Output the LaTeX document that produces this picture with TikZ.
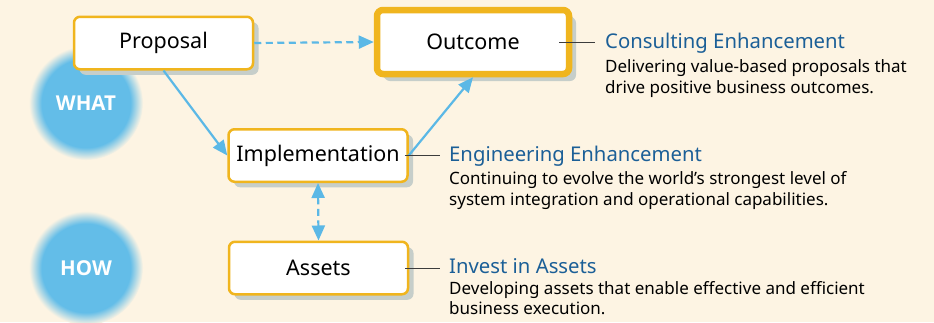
\documentclass[tikz,border=0pt]{standalone}
\usepackage{fontspec}
\setmainfont{Noto Sans}
\newfontfamily\circfont{Open Sans}
\usetikzlibrary{arrows.meta,shadows}
\definecolor{bg}{HTML}{FDF4E3}
\definecolor{boxborder}{HTML}{F0B51E}
\definecolor{shadowc}{HTML}{C6CECA}
\definecolor{arrowc}{HTML}{5BB8E6}
\definecolor{headc}{HTML}{1B5F97}
\definecolor{circc}{HTML}{63BDE8}
\definecolor{leadc}{HTML}{3C3C3C}
\pgfdeclareradialshading{softcirc}{\pgfpoint{0bp}{0bp}}{%
  color(0bp)=(circc); color(19.5bp)=(circc); color(25bp)=(bg); color(50bp)=(bg)}
\tikzset{
  stepbox/.style={draw=boxborder, line width=2.5pt, fill=white, rounded corners=6pt,
    minimum width=179pt, minimum height=52.5pt, inner sep=0pt,
    font=\fontsize{21.5}{25}\selectfont,
    drop shadow={shadow xshift=5.5pt, shadow yshift=-5.5pt, fill=shadowc, opacity=1}},
  bigbox/.style={stepbox, line width=6.5pt, minimum width=192pt, minimum height=64pt,
    drop shadow={shadow xshift=7pt, shadow yshift=-7pt, fill=shadowc, opacity=1}},
  flow/.style={draw=arrowc, line width=2.2pt, -{Triangle[length=15pt,width=13pt]}},
  dashflow/.style={flow, dash pattern=on 7pt off 4.5pt},
  leader/.style={draw=leadc, line width=1pt},
  headtxt/.style={anchor=base west, inner sep=0pt, text=headc, font=\fontsize{20.3}{24}\selectfont},
  bodytxt/.style={anchor=base west, inner sep=0pt, align=left, font=\fontsize{17}{20.5}\selectfont},
  circlab/.style={text=white, font=\circfont\bfseries\fontsize{20.5}{24}\selectfont}
}
\begin{document}
\begin{tikzpicture}[x=1pt,y=-1pt]
\fill[bg] (0,0) rectangle (934,322);
\useasboundingbox (0,0) rectangle (934,322);
% circles
\shade[shading=softcirc] (86,103) circle (57);
\shade[shading=softcirc] (86,268) circle (57);
\node[circlab] (what) at (86,103) {WHAT};
\node[circlab] (how) at (86,268) {HOW};
% boxes
\node[stepbox] (prop) at (163.5,43) {Proposal};
\node[bigbox] (out) at (473,42) {Outcome};
\node[stepbox] (impl) at (318,155.5) {Implementation};
\node[stepbox] (asset) at (318.5,268) {Assets};
% arrows
\draw[dashflow] (prop.east) -- (out.west);
\draw[flow] (prop.south) -- (impl.west);
\draw[flow] (impl.east) -- (out.south);
\draw[dashflow, {Triangle[length=15pt,width=13pt]}-{Triangle[length=15pt,width=13pt]}] (impl.south) -- (asset.north);
% descriptions (base anchor = baseline of last line)
\node[headtxt] (ch) at (605,48.7) {Consulting Enhancement};
\node[bodytxt] (cb) at (605,93) {Delivering value-based proposals that\\drive positive business outcomes.};
\node[headtxt] (eh) at (449,161) {Engineering Enhancement};
\node[bodytxt] (eb) at (449,205) {Continuing to evolve the world’s strongest level of\\system integration and operational capabilities.};
\node[headtxt] (ih) at (449,273.3) {Invest in Assets};
\node[bodytxt] (ib) at (449,314.5) {Developing assets that enable effective and efficient\\business execution.};
% leaders
\draw[leader] ([xshift=-13pt]out.east) -- (out.east -| 595,0);
\draw[leader] ([xshift=-4pt]impl.east) -- (impl.east -| 440,0);
\draw[leader] ([xshift=-4pt]asset.east) -- (asset.east -| 440,0);
\end{tikzpicture}
\end{document}
